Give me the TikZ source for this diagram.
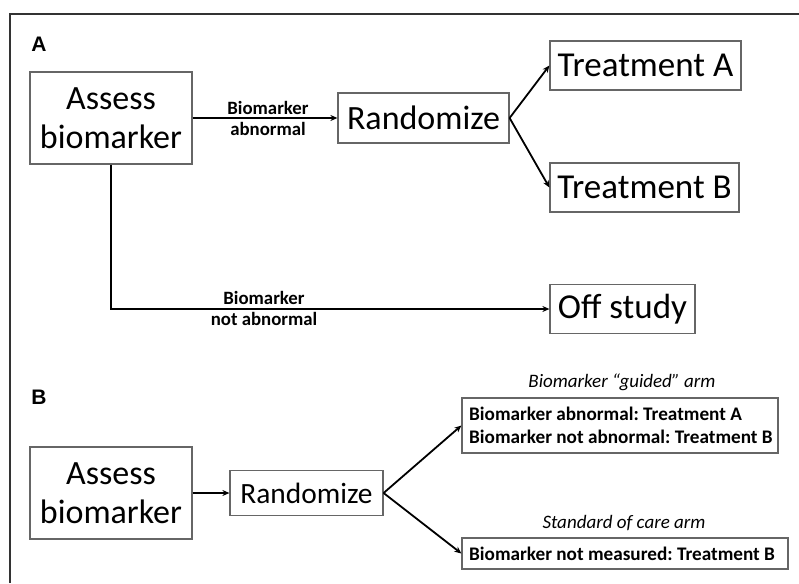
\documentclass[tikz,border=0pt]{standalone}
\usepackage{fontspec}
\setmainfont{Carlito}
\newfontfamily\labfont{Liberation Sans}
\usetikzlibrary{arrows.meta}
\frenchspacing
\tikzset{
  box/.style={draw=black!60, line width=1.2pt, rectangle, inner sep=0pt, align=center},
  big/.style={font=\fontsize{34}{39}\selectfont},
  bigger/.style={font=\fontsize{35}{40}\selectfont},
  conn/.style={line width=1.8pt, -{Stealth[length=7pt,width=6pt]}},
  lbl/.style={font=\bfseries\fontsize{18.8}{21}\selectfont, align=center, inner sep=0pt},
  armcap/.style={font=\itshape\fontsize{19}{22}\selectfont, inner sep=0pt},
  panel/.style={font=\labfont\bfseries\fontsize{21}{24}\selectfont, inner sep=0pt},
  armtext/.style={font=\bfseries\fontsize{19.2}{23}\selectfont, align=left}
}
\begin{document}
\begin{tikzpicture}[x=1pt,y=-1pt]
\useasboundingbox (0,0) rectangle (799,583);
\fill[white] (0,0) rectangle (799,583);
\draw[line width=2pt, black!80] (10,583) -- (10,14) -- (799,14);

% Panel A
\node[panel] (pa) at (39,44) {A};
\node[box, big, minimum width=162pt, minimum height=92pt] (assessA) at (111,118) {Assess\\biomarker};
\node[box, big, minimum width=171pt, minimum height=50pt] (randA) at (423.5,118) {Randomize};
\node[box, bigger, minimum width=191pt, minimum height=49pt] (tA) at (645.5,65.5) {Treatment A};
\node[box, bigger, minimum width=189pt, minimum height=49pt] (tB) at (644.5,187.5) {Treatment B};
\node[box, bigger, minimum width=145pt, minimum height=49pt] (offs) at (622.5,309) {Off study};

\draw[conn] (assessA.east) -- (randA.west);
\draw[conn] (randA.east) -- (tA.west);
\draw[conn] (randA.east) -- (tB.west);
\draw[conn] (assessA.south) |- (offs.west);

\node[lbl] (l1) at (268,118) {Biomarker\\abnormal};
\node[lbl] (l2) at (264,308.5) {Biomarker\\not abnormal};

% Panel B
\node[panel] (pb) at (39,397) {B};
\node[box, big, minimum width=162pt, minimum height=92pt] (assessB) at (111,493) {Assess\\biomarker};
\node[box, font=\fontsize{29.4}{34}\selectfont, minimum width=153pt, minimum height=45pt] (randB) at (306.5,493) {Randomize};
\node[box, minimum width=316pt, minimum height=55pt] (guided) at (620,425.5) {};
\node[armtext, anchor=west, inner sep=0pt] (gtext) at (469,425.5) {Biomarker abnormal: Treatment A\\Biomarker not abnormal: Treatment B};
\node[box, minimum width=326pt, minimum height=31pt] (soc) at (625,553.5) {};
\node[armtext, anchor=west, inner sep=0pt] (stext) at (469,553.5) {Biomarker not measured: Treatment B};

\node[armcap] (c1) at (622,382) {Biomarker “guided” arm};
\node[armcap] (c2) at (624,523) {Standard of care arm};

\draw[conn] (assessB.east) -- (randB.west);
\draw[conn] (randB.east) -- (guided.west);
\draw[conn] (randB.east) -- (soc.west);
\end{tikzpicture}
\end{document}
